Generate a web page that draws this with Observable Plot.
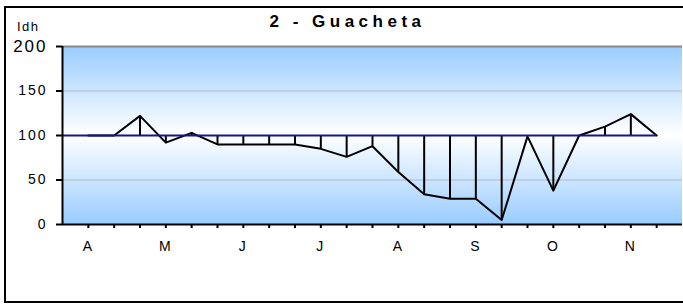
<!DOCTYPE html>
<html><head><meta charset="utf-8">
<script src="https://cdn.jsdelivr.net/npm/d3@7"></script>
<script src="https://cdn.jsdelivr.net/npm/@observablehq/plot@0.6"></script>
<style>
html,body{margin:0;padding:0;background:#fff;overflow:hidden;}
#wrap{position:relative;width:683px;height:304px;overflow:hidden;}
#frame{position:absolute;left:4px;top:6px;width:760px;height:297px;border:2px solid #000;box-sizing:border-box;pointer-events:none;z-index:2;}
#title{position:absolute;left:6px;width:683px;top:13px;text-align:center;font:bold 17px "Liberation Sans",Arial,sans-serif;line-height:17px;letter-spacing:4.5px;color:#000;z-index:3;}
#ylab{position:absolute;left:17px;top:20px;font:13px "Liberation Sans",Arial,sans-serif;line-height:13px;letter-spacing:1.5px;color:#000;z-index:3;}
#chart svg text{letter-spacing:2px;}
</style></head><body>
<div id="wrap"><div id="chart"></div><div id="frame"></div><div id="title"></div><div id="ylab"></div></div>
<script>
const title = "2 - Guacheta";
const yLabel = "Idh";
const dekads = ["Abr-1","Abr-2","Abr-3","May-1","May-2","May-3","Jun-1","Jun-2","Jun-3","Jul-1","Jul-2","Jul-3","Ago-1","Ago-2","Ago-3","Sep-1","Sep-2","Sep-3","Oct-1","Oct-2","Oct-3","Nov-1","Nov-2"];
const idh = [100,100,122,92,103,90,90,90,90,85,76,88,59,34,29,29,5,99,38,100,110,124,100];
const reference = 100;
const monthTicks = [0,3,6,9,12,15,18,21];
const monthLabels = ["A","M","J","J","A","S","O","N"];
const yTicks = [0,50,100,150];
const yTopTick = [200];
const gridLines = [50,150];

document.getElementById("title").textContent = title;
document.getElementById("ylab").textContent = yLabel;

const data = dekads.map((d, i) => ({dekad: d, i, v: idh[i]}));
const idx = dekads.map((d, i) => i);
const refLine = [{x1: -1, x2: dekads.length - 1, y: reference}];

const plot = Plot.plot({
  width: 683, height: 304,
  marginLeft: 62, marginRight: 1, marginTop: 46, marginBottom: 80,
  style: {background: "transparent", fontFamily: "Liberation Sans, Arial, sans-serif", color: "#000", overflow: "visible"},
  x: {type: "linear", domain: [-1, dekads.length], axis: null},
  y: {domain: [0, 200], axis: null},
  marks: [
    Plot.rect([0], {x1: -1, x2: dekads.length, y1: 0, y2: 200, fill: "url(#bg)"}),
    Plot.ruleY(gridLines, {stroke: "#b4b8c0", strokeWidth: 1}),
    Plot.ruleY(yTopTick, {stroke: "#8a8a8a", strokeWidth: 2}),
    Plot.ruleX(data, {x: "i", y1: reference, y2: "v", stroke: "#000", strokeWidth: 2}),
    Plot.line(data, {x: "i", y: "v", stroke: "#000", strokeWidth: 2}),
    Plot.ruleY(refLine, {x1: "x1", x2: "x2", y: "y", stroke: "#14148f", strokeWidth: 2}),
    Plot.ruleX([-1], {stroke: "#000", strokeWidth: 2}),
    Plot.ruleY([0], {stroke: "#000", strokeWidth: 2}),
    Plot.axisY(yTicks, {anchor: "left", label: null, tickSize: 6, tickPadding: 9, fontSize: 14, strokeWidth: 2}),
    Plot.axisY(yTopTick, {anchor: "left", label: null, tickSize: 6, tickPadding: 9, fontSize: 17, strokeWidth: 2}),
    Plot.axisX(idx, {anchor: "bottom", label: null, tickSize: 4, tickFormat: () => "", strokeWidth: 2}),
    Plot.axisX(monthTicks, {anchor: "bottom", label: null, tickSize: 0, tickPadding: 16.5, fontSize: 14, tickFormat: (d) => monthLabels[monthTicks.indexOf(d)]})
  ]
});

const ns = "http://www.w3.org/2000/svg";
const defs = document.createElementNS(ns, "defs");
defs.innerHTML = '<linearGradient id="bg" x1="0" y1="0" x2="0" y2="1">' +
  '<stop offset="0" stop-color="#99ccff"/>' +
  '<stop offset="0.5" stop-color="#ffffff"/>' +
  '<stop offset="1" stop-color="#99ccff"/></linearGradient>';
plot.insertBefore(defs, plot.firstChild);
document.getElementById("chart").appendChild(plot);
</script>
</body></html>
